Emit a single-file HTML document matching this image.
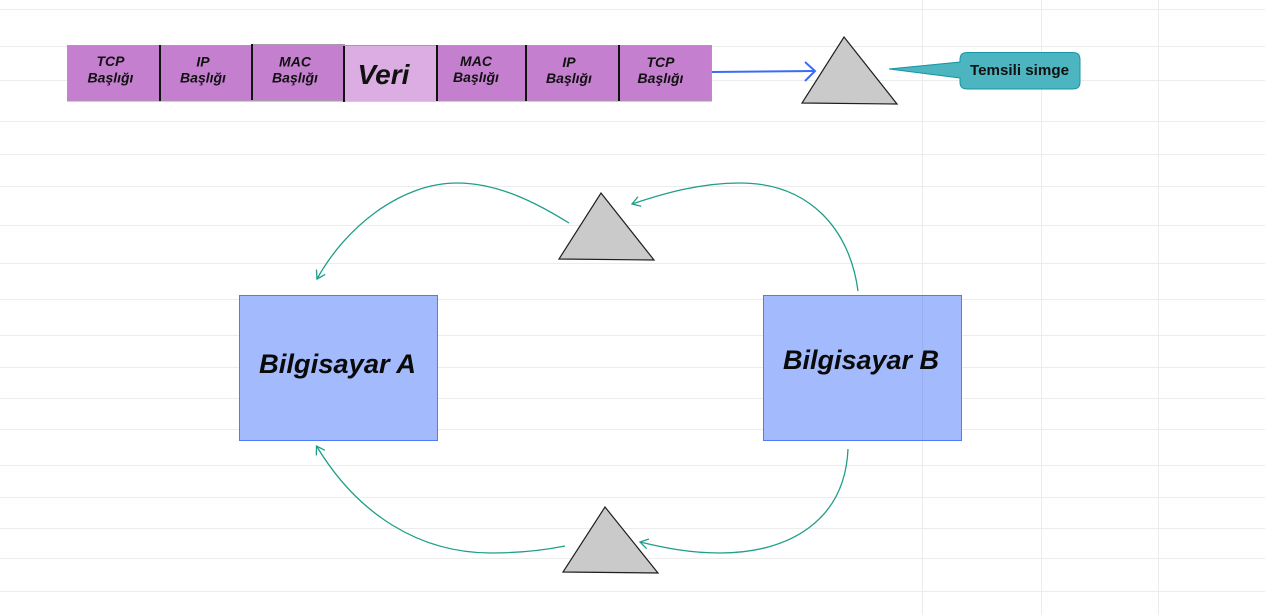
<!DOCTYPE html>
<html>
<head>
<meta charset="utf-8">
<style>
  html, body { margin:0; padding:0; background:#ffffff; }
  body { width:1265px; height:615px; overflow:hidden; }
  svg { display:block; }
  .seg { font-family:"Liberation Sans", sans-serif; font-style:italic; font-weight:bold; font-size:14px; fill:#111; }
</style>
</head>
<body>
<svg width="1265" height="615" viewBox="0 0 1265 615" xmlns="http://www.w3.org/2000/svg">
  <defs>
    <marker id="tealArrow" markerUnits="userSpaceOnUse" markerWidth="12" markerHeight="14" refX="9" refY="6" orient="auto">
      <path d="M1,1 L9,6 L1,11" fill="none" stroke="#1f9e88" stroke-width="1.3"/>
    </marker>
  </defs>

  <!-- grid -->
  <g stroke="#ececec" stroke-width="1">
    <line x1="0" y1="9.5" x2="1265" y2="9.5"/>
    <line x1="0" y1="46.5" x2="1265" y2="46.5"/>
    <line x1="0" y1="80.5" x2="1265" y2="80.5"/>
    <line x1="0" y1="121.5" x2="1265" y2="121.5"/>
    <line x1="0" y1="154.5" x2="1265" y2="154.5"/>
    <line x1="0" y1="186.5" x2="1265" y2="186.5"/>
    <line x1="0" y1="225.5" x2="1265" y2="225.5"/>
    <line x1="0" y1="263.5" x2="1265" y2="263.5"/>
    <line x1="0" y1="299.5" x2="1265" y2="299.5"/>
    <line x1="0" y1="335.5" x2="1265" y2="335.5"/>
    <line x1="0" y1="367.5" x2="1265" y2="367.5"/>
    <line x1="0" y1="398.5" x2="1265" y2="398.5"/>
    <line x1="0" y1="429.5" x2="1265" y2="429.5"/>
    <line x1="0" y1="465.5" x2="1265" y2="465.5"/>
    <line x1="0" y1="497.5" x2="1265" y2="497.5"/>
    <line x1="0" y1="528.5" x2="1265" y2="528.5"/>
    <line x1="0" y1="558.5" x2="1265" y2="558.5"/>
    <line x1="0" y1="591.5" x2="1265" y2="591.5"/>
    <line x1="922.5" y1="0" x2="922.5" y2="615"/>
    <line x1="1041.5" y1="0" x2="1041.5" y2="615"/>
    <line x1="1158.5" y1="0" x2="1158.5" y2="615"/>
  </g>

  <!-- packet bar -->
  <rect x="67.5" y="45.5" width="644" height="55.5" fill="#c47fcf" stroke="#a89aab" stroke-width="1"/>
  <rect x="252.5" y="44.5" width="92" height="56" fill="#c47fcf" stroke="#a89aab" stroke-width="1"/>
  <rect x="345" y="46" width="91" height="55" fill="#dbade3"/>
  <g stroke="#111" stroke-width="2">
    <line x1="160" y1="45" x2="160" y2="101"/>
    <line x1="252" y1="44" x2="252" y2="100"/>
    <line x1="344" y1="46" x2="344" y2="102"/>
    <line x1="437" y1="45" x2="437" y2="101"/>
    <line x1="526" y1="45" x2="526" y2="101"/>
    <line x1="619" y1="45" x2="619" y2="101"/>
  </g>
  <g class="seg" text-anchor="middle">
    <text x="110.5" y="66">TCP</text><text x="110.5" y="82.5">Başlığı</text>
    <text x="203" y="66.5">IP</text><text x="203" y="82.5">Başlığı</text>
    <text x="295" y="66.5">MAC</text><text x="295" y="82.5">Başlığı</text>
    <text x="476" y="66">MAC</text><text x="476" y="82">Başlığı</text>
    <text x="569" y="67">IP</text><text x="569" y="83">Başlığı</text>
    <text x="660.5" y="67">TCP</text><text x="660.5" y="83">Başlığı</text>
  </g>
  <text x="383.5" y="84" text-anchor="middle" font-family="'Liberation Sans', sans-serif" font-style="italic" font-weight="bold" font-size="28" fill="#111">Veri</text>

  <!-- blue arrow -->
  <line x1="712" y1="72" x2="814" y2="71" stroke="#3b6cf5" stroke-width="2"/>
  <path d="M805,62 L815,71 L805,81" fill="none" stroke="#3b6cf5" stroke-width="2"/>

  <!-- triangles -->
  <g fill="#cacaca" stroke="#1e1e1e" stroke-width="1.2" stroke-linejoin="miter">
    <path d="M844,37 L897,104 L802,103 Z"/>
    <path d="M601,193 L654,260 L559,259 Z"/>
    <path d="M605,507 L658,573 L563,572 Z"/>
  </g>

  <!-- callout -->
  <path d="M967,52.5 H1073 Q1080,52.5 1080,59.5 V82 Q1080,89 1073,89 H967 Q960,89 960,82 V78 L889,69 L960,62 V59.5 Q960,52.5 967,52.5 Z" fill="#4cb5c0" stroke="#1596a6" stroke-width="1"/>
  <text x="970" y="75" textLength="99" lengthAdjust="spacingAndGlyphs" font-family="'Liberation Sans', sans-serif" font-weight="bold" font-size="14.5" fill="#111">Temsili simge</text>

  <!-- computers -->
  <rect x="239.5" y="295.5" width="198" height="145" fill="#a0b8fc" fill-opacity="0.97" stroke="#4e7cf3" stroke-width="1"/>
  <rect x="763.5" y="295.5" width="198" height="145" fill="#a0b8fc" fill-opacity="0.97" stroke="#4e7cf3" stroke-width="1"/>
  <line x1="922.5" y1="296" x2="922.5" y2="440" stroke="#93a9e8" stroke-width="1" opacity="0.6"/>
  <text x="259" y="373" textLength="157" lengthAdjust="spacingAndGlyphs" font-family="'Liberation Sans', sans-serif" font-style="italic" font-weight="bold" font-size="27" fill="#0a0a0a">Bilgisayar A</text>
  <text x="783" y="369" textLength="156" lengthAdjust="spacingAndGlyphs" font-family="'Liberation Sans', sans-serif" font-style="italic" font-weight="bold" font-size="27" fill="#0a0a0a">Bilgisayar B</text>

  <!-- connectors -->
  <g fill="none" stroke="#1f9e88" stroke-width="1.3">
    <path d="M569,223 C540,205 500,183 457,183 C400,183 345,228 317,279" marker-end="url(#tealArrow)"/>
    <path d="M858,291 C850,230 810,183 740,183 C700,183 665,193 632,204" marker-end="url(#tealArrow)"/>
    <path d="M565,546 C540,551 515,553 491,553 C420,553 358,515 316.5,446" marker-end="url(#tealArrow)"/>
    <path d="M848,449 C845,520 790,553 720,553 C690,553 665,548 640,542" marker-end="url(#tealArrow)"/>
  </g>
</svg>
</body>
</html>
